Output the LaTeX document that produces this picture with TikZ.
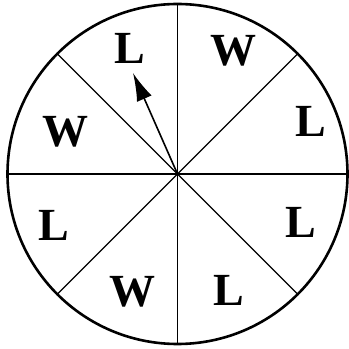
\documentclass[tikz,border=0pt]{standalone}
\usepackage{fontspec}
\setmainfont{Liberation Serif}
\usetikzlibrary{arrows.meta}
\tikzset{
  sector/.style={font=\fontsize{46}{46}\selectfont\bfseries, inner sep=0pt},
}

\begin{document}
\begin{tikzpicture}[x=1pt,y=1pt]
\useasboundingbox (0,0) rectangle (349,349);
\coordinate (C) at (177.5,175);

\draw[line width=1.4pt] (C) -- ++(90:170);
\draw[line width=1.4pt] (C) -- ++(270:170);
\draw[line width=1.4pt] (C) -- ++(0:170);
\draw[line width=1.4pt] (C) -- ++(180:170);
\draw[line width=1.4pt] (C) -- ++(45:170);
\draw[line width=1.4pt] (C) -- ++(135:170);
\draw[line width=1.4pt] (C) -- ++(225:170);
\draw[line width=1.4pt] (C) -- ++(315:170);

\draw[line width=2.6pt] (C) circle (170);

\node[sector] (L1) at (130,301) {L};
\node[sector] (W1) at (234,298) {W};
\node[sector] (L2) at (310.5,228) {L};
\node[sector] (W2) at (65,217) {W};
\node[sector] (L3) at (54,124) {L};
\node[sector] (L4) at (300.5,126.5) {L};
\node[sector] (W3) at (133,57) {W};
\node[sector] (L5) at (228.7,59) {L};

\coordinate (tip) at (133,276);
\draw[-{Latex[length=28pt,width=16pt]}, line width=1.6pt] (C) -- (tip);
\end{tikzpicture}
\end{document}
